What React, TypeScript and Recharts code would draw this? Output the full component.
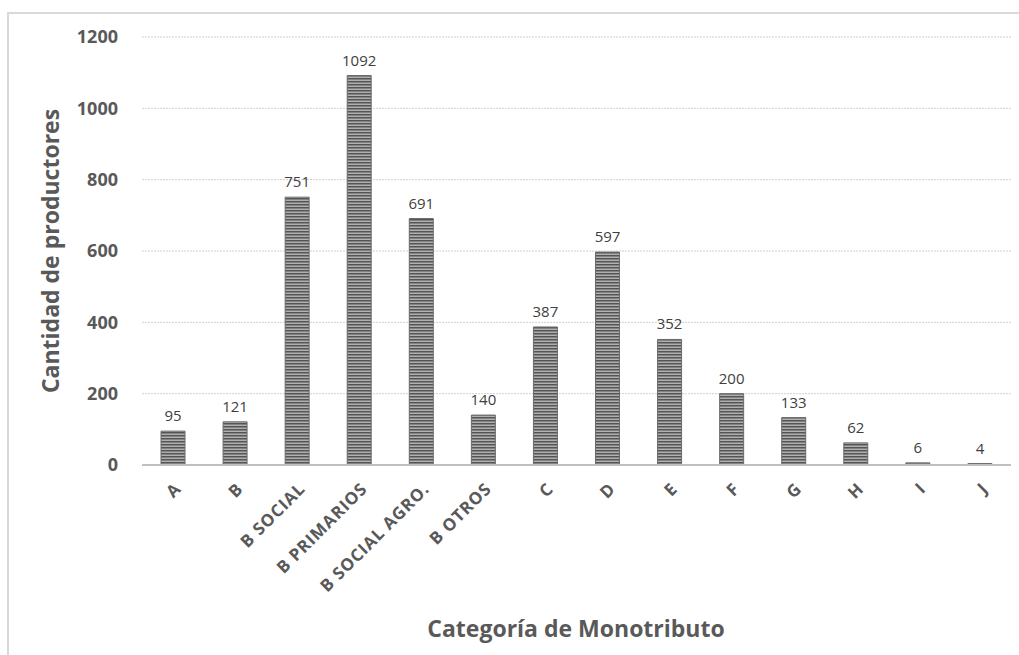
import React from 'react';
import {
  BarChart,
  Bar,
  XAxis,
  YAxis,
  CartesianGrid,
  LabelList,
  ReferenceLine
} from 'recharts';

const categories = [
  'A', 'B', 'B SOCIAL', 'B PRIMARIOS', 'B SOCIAL AGRO.', 'B OTROS',
  'C', 'D', 'E', 'F', 'G', 'H', 'I', 'J'
];
const productores = [95, 121, 751, 1092, 691, 140, 387, 597, 352, 200, 133, 62, 6, 4];
const yTicks = [0, 200, 400, 600, 800, 1000, 1200];

const data = categories.map((name, i) => ({ name, value: productores[i] }));

const font = 'Open Sans, Noto Sans, sans-serif';

function CategoryTick(props: any) {
  const { x, y, payload } = props;
  const ax = x + 9;
  const ay = y + 17;
  return (
    <text
      x={ax}
      y={ay}
      transform={`rotate(-45, ${ax}, ${ay})`}
      textAnchor="end"
      fill="#595959"
      fontSize={17}
      fontWeight="bold"
      letterSpacing={0.8}
      fontFamily={font}
    >
      {payload.value}
    </text>
  );
}

export default function App() {
  return (
    <div style={{ position: 'absolute', left: 0, top: 0, width: 1019, height: 655, background: '#fff', overflow: 'hidden' }}>
      <div
        style={{
          position: 'absolute',
          left: 7,
          top: 12,
          width: 1030,
          height: 700,
          border: '2px solid #d9d9d9',
          boxSizing: 'border-box'
        }}
      />
      <BarChart
        width={1019}
        height={655}
        data={data}
        margin={{ top: 37, right: 8, bottom: 130, left: 82 }}
        style={{ position: 'absolute', left: 0, top: 0 }}
      >
        <defs>
          <pattern id="stripes" patternUnits="userSpaceOnUse" width={6} height={3}>
            <rect x={0} y={0} width={6} height={3} fill="#b0b0b0" />
            <rect x={0} y={0} width={6} height={1.5} fill="#555555" />
          </pattern>
        </defs>
        <CartesianGrid vertical={false} stroke="#d0d0d0" strokeDasharray="2 1" />
        <XAxis
          dataKey="name"
          interval={0}
          height={60}
          axisLine={false}
          tickLine={false}
          tick={<CategoryTick />}
        />
        <YAxis
          width={60}
          domain={[0, 1200]}
          ticks={yTicks}
          axisLine={false}
          tickLine={false}
          tickMargin={18}
          tick={{ fill: '#595959', fontSize: 18, fontWeight: 'bold', fontFamily: font }}
        />
        <ReferenceLine y={0} stroke="#bfbfbf" strokeWidth={2} />
        <Bar
          dataKey="value"
          barSize={24}
          fill="url(#stripes)"
          stroke="#6a6a6a"
          strokeWidth={1}
          isAnimationActive={false}
        >
          <LabelList
            dataKey="value"
            position="top"
            offset={10}
            fill="#404040"
            fontSize={15}
            fontFamily={font}
          />
        </Bar>
        <text
          x={59}
          y={251}
          transform="rotate(-90, 59, 251)"
          textAnchor="middle"
          fill="#595959"
          fontSize={23}
          fontWeight="bold"
          fontFamily={font}
        >
          Cantidad de productores
        </text>
        <text
          x={576}
          y={637}
          textAnchor="middle"
          fill="#595959"
          fontSize={23}
          fontWeight="bold"
          fontFamily={font}
        >
          Categoría de Monotributo
        </text>
      </BarChart>
    </div>
  );
}
